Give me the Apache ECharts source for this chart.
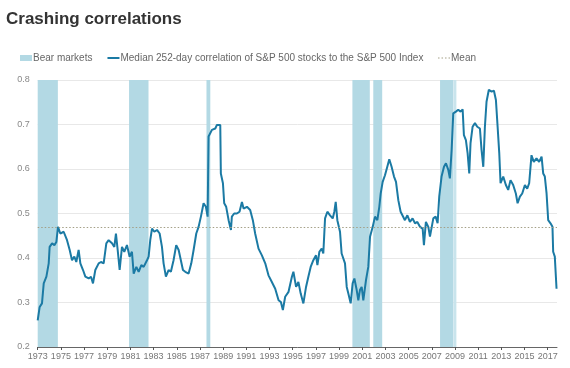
<!DOCTYPE html>
<html>
<head>
<meta charset="utf-8">
<script src="https://cdn.jsdelivr.net/npm/echarts@6/dist/echarts.min.js"></script>
<style>
html,body{margin:0;padding:0;background:#fff;}
#c{width:570px;height:368px;}
</style>
</head>
<body>
<div id="c"></div>
<script>
const years = [
1973.00,1973.17,1973.37,1973.52,1973.75,1973.95,1974.03,1974.24,1974.44,1974.61,1974.75,1974.95,
1975.24,1975.53,1975.76,1975.96,1976.16,1976.33,1976.53,1976.68,1976.91,1977.11,1977.40,1977.60,
1977.77,1977.97,1978.26,1978.46,1978.69,1978.92,1979.12,1979.41,1979.61,1979.75,1979.90,1980.07,
1980.27,1980.47,1980.70,1980.93,1981.13,1981.28,1981.51,1981.71,1981.94,1982.14,1982.43,1982.57,
1982.71,1982.86,1983.06,1983.29,1983.52,1983.72,1983.86,1984.06,1984.29,1984.49,1984.72,1984.95,
1985.16,1985.30,1985.53,1985.73,1986.02,1986.25,1986.45,1986.68,1986.88,1987.08,1987.31,1987.51,
1987.66,1987.74,1987.89,1988.03,1988.32,1988.46,1988.60,1988.75,1988.80,1988.98,1989.09,1989.26,
1989.47,1989.67,1989.75,1989.95,1990.18,1990.41,1990.62,1990.76,1991.05,1991.33,1991.56,1991.76,
1992.05,1992.34,1992.63,1992.91,1993.20,1993.49,1993.78,1993.98,1994.15,1994.35,1994.64,1994.93,
1995.06,1995.29,1995.49,1995.69,1995.92,1996.15,1996.35,1996.55,1996.78,1997.01,1997.13,1997.30,
1997.50,1997.64,1997.79,1997.99,1998.22,1998.45,1998.59,1998.71,1998.85,1999.08,1999.22,1999.51,
1999.66,1999.80,2000.00,2000.17,2000.32,2000.52,2000.66,2000.80,2000.95,2001.09,2001.32,2001.52,
2001.67,2001.90,2002.10,2002.30,2002.47,2002.59,2002.76,2002.96,2003.16,2003.33,2003.53,2003.74,
2003.91,2004.11,2004.31,2004.48,2004.68,2004.89,2005.11,2005.34,2005.55,2005.75,2005.98,2006.21,
2006.32,2006.49,2006.70,2006.84,2006.98,2007.13,2007.33,2007.50,2007.64,2007.84,2008.05,2008.22,
2008.42,2008.56,2008.71,2008.85,2009.08,2009.28,2009.48,2009.66,2009.77,2009.94,2010.09,2010.23,
2010.34,2010.52,2010.72,2010.92,2011.15,2011.29,2011.44,2011.58,2011.72,2011.92,2012.16,2012.36,
2012.53,2012.64,2012.82,2012.93,2013.16,2013.39,2013.59,2013.79,2014.02,2014.25,2014.40,2014.60,
2014.80,2015.03,2015.23,2015.40,2015.60,2015.80,2016.03,2016.26,2016.47,2016.61,2016.75,2016.90,
2017.04,2017.24,2017.41,2017.47,2017.61,2017.76
];
const correlation = [
0.260,0.290,0.298,0.343,0.358,0.388,0.425,0.433,0.429,0.436,0.470,0.455,
0.459,0.440,0.418,0.395,0.403,0.391,0.418,0.388,0.373,0.358,0.354,0.358,
0.343,0.373,0.388,0.391,0.388,0.433,0.440,0.433,0.425,0.455,0.418,0.373,
0.425,0.414,0.429,0.403,0.414,0.365,0.380,0.369,0.384,0.380,0.395,0.403,
0.440,0.466,0.459,0.463,0.455,0.425,0.388,0.358,0.373,0.369,0.395,0.429,
0.418,0.414,0.373,0.369,0.365,0.388,0.418,0.455,0.470,0.493,0.523,0.515,
0.493,0.673,0.676,0.688,0.691,0.699,0.703,0.699,0.590,0.568,0.523,0.515,
0.485,0.463,0.493,0.500,0.500,0.504,0.526,0.511,0.515,0.508,0.485,0.455,
0.421,0.406,0.388,0.361,0.346,0.331,0.305,0.301,0.283,0.313,0.324,0.358,
0.369,0.335,0.346,0.320,0.298,0.335,0.358,0.380,0.395,0.406,0.384,0.414,
0.421,0.410,0.489,0.504,0.496,0.489,0.504,0.526,0.485,0.459,0.410,0.388,
0.335,0.320,0.298,0.343,0.354,0.328,0.305,0.328,0.335,0.305,0.350,0.380,
0.448,0.470,0.493,0.485,0.515,0.545,0.571,0.586,0.605,0.622,0.605,0.583,
0.571,0.530,0.504,0.500,0.485,0.496,0.481,0.489,0.478,0.481,0.470,0.466,
0.429,0.481,0.470,0.448,0.448,0.489,0.493,0.478,0.538,0.583,0.605,0.613,
0.598,0.579,0.643,0.725,0.729,0.733,0.729,0.734,0.676,0.665,0.635,0.590,
0.658,0.695,0.703,0.695,0.691,0.643,0.605,0.695,0.751,0.778,0.774,0.776,
0.755,0.710,0.635,0.568,0.583,0.564,0.553,0.575,0.564,0.545,0.523,0.538,
0.545,0.564,0.556,0.568,0.631,0.616,0.624,0.616,0.628,0.590,0.583,0.545,
0.485,0.478,0.470,0.414,0.403,0.331
];
const bearStart = [1973.00, 1980.88, 1987.56, 2000.15, 2001.95, 2007.71, 2008.86];
const bearEnd   = [1974.74, 1982.56, 1987.89, 2001.65, 2002.72, 2008.85, 2009.12];
const meanValue = 0.47;
const xTicks = [1973,1975,1977,1979,1981,1983,1985,1987,1989,1991,1993,1995,1997,1999,2001,2003,2005,2007,2009,2011,2013,2015,2017];
const xMin = 1973, xMax = 2017.8;
const yMin = 0.2, yMax = 0.8, yStep = 0.1;

const seriesNames = ['Bear markets', 'Median 252-day correlation of S&P 500 stocks to the S&P 500 Index', 'Mean'];

const chart = echarts.init(document.getElementById('c'), null, {renderer: 'canvas'});
const lineData = years.map((y, i) => [y, correlation[i]]);
const bearAreas = bearStart.map((s, i) => [
  {xAxis: s, itemStyle: {color: i === bearStart.length - 1 ? '#c9e4ec' : '#b3d9e4'}},
  {xAxis: bearEnd[i]}
]);
const FONT = '"Liberation Sans", Arial, sans-serif';
const LINE = '#1b7aa4', MEAN = '#a39f86', BEAR = '#b3d9e4';

chart.setOption({
  animation: false,
  backgroundColor: '#fff',
  title: {
    text: 'Crashing correlations',
    left: 1, top: 6,
    textStyle: {fontFamily: FONT, fontSize: 17, fontWeight: 'bold', color: '#333'}
  },
  legend: {
    left: 15, top: 48,
    itemWidth: 12, itemHeight: 6,
    itemGap: 14,
    textStyle: {fontFamily: FONT, fontSize: 10, color: '#666', padding: [0,0,0,-4]},
    data: [
      {name: seriesNames[0], icon: 'rect', itemStyle: {color: BEAR}},
      {name: seriesNames[1], itemStyle: {color: 'transparent', borderWidth: 0}, lineStyle: {color: LINE, width: 2}},
      {name: seriesNames[2], itemStyle: {color: 'transparent', borderWidth: 0}, lineStyle: {color: MEAN, width: 1.2, type: [1.5, 2]}}
    ]
  },
  grid: {left: 37.7, right: 13, top: 80, bottom: 21, containLabel: false},
  xAxis: {
    type: 'value', min: xMin, max: xMax,
    axisLine: {show: true, lineStyle: {color: '#666', width: 1}},
    axisTick: {show: true, length: 3, lineStyle: {color: '#555'}, customValues: xTicks},
    axisLabel: {customValues: xTicks, fontFamily: FONT, fontSize: 9, color: '#777', margin: 5,
      formatter: v => String(Math.round(v))},
    splitLine: {show: false}
  },
  yAxis: {
    type: 'value', min: yMin, max: yMax, interval: yStep,
    axisLine: {show: false}, axisTick: {show: false},
    axisLabel: {fontFamily: FONT, fontSize: 9, color: '#888', margin: 8, formatter: v => v.toFixed(1)},
    splitLine: {lineStyle: {color: '#e8e8e8', width: 1}}
  },
  series: [
    {
      name: seriesNames[0], type: 'line', data: [], symbol: 'none',
      itemStyle: {color: BEAR}, lineStyle: {color: BEAR},
      markArea: {silent: true, itemStyle: {color: BEAR}, data: bearAreas},
      z: 1
    },
    {
      name: seriesNames[2], type: 'line', data: [], symbol: 'none',
      itemStyle: {color: MEAN}, lineStyle: {color: MEAN, type: [1.5, 2], width: 1.2},
      markLine: {silent: true, symbol: 'none', label: {show: false},
        lineStyle: {color: MEAN, type: [1.5, 2], width: 1.2},
        data: [{yAxis: meanValue}]},
      z: 2
    },
    {
      name: seriesNames[1], type: 'line', data: lineData, symbol: 'none', showSymbol: false,
      itemStyle: {color: LINE},
      lineStyle: {color: LINE, width: 2}, z: 3
    }
  ]
});
</script>
</body>
</html>
